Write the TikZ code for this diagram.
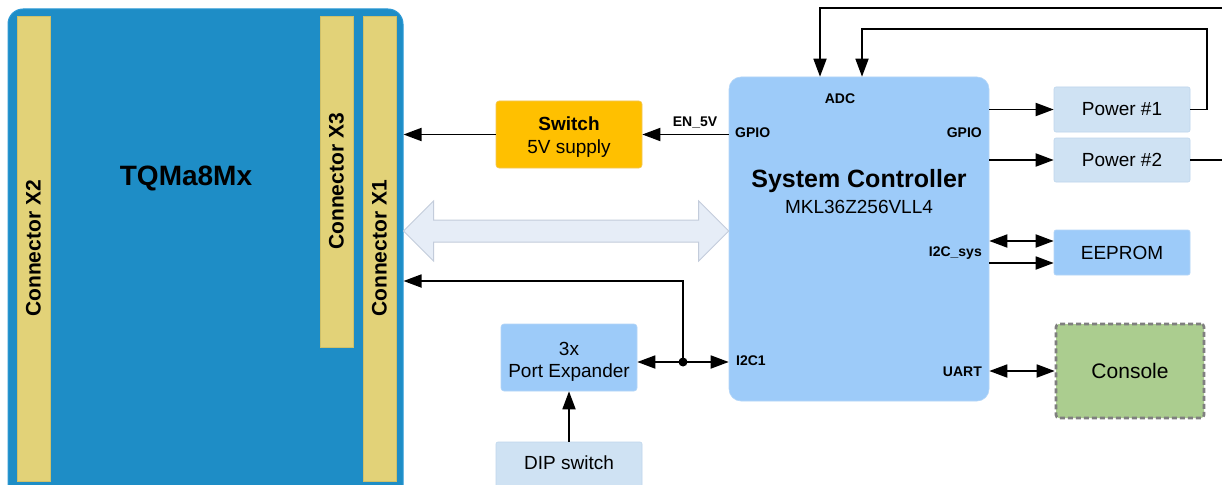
\documentclass[tikz,border=0pt]{standalone}
\usepackage{fontspec}
\setmainfont{Liberation Sans}
\usetikzlibrary{arrows.meta,calc}
\definecolor{tqblue}{HTML}{1E8DC6}
\definecolor{tqedge}{HTML}{2E9AD6}
\definecolor{connfill}{HTML}{E2D278}
\definecolor{connedge}{HTML}{CFC06A}
\definecolor{scblue}{HTML}{9DCBF9}
\definecolor{scedge}{HTML}{B4D6F8}
\definecolor{paleblue}{HTML}{CFE2F3}
\definecolor{paleedge}{HTML}{BFD6EC}
\definecolor{swfill}{HTML}{FFC000}
\definecolor{swedge}{HTML}{F2C65A}
\definecolor{confill}{HTML}{ABCD8F}
\definecolor{conedge}{HTML}{7F7F7F}
\definecolor{bigfill}{HTML}{E6EDF7}
\definecolor{bigedge}{HTML}{C3CCDB}
\begin{document}
\begin{tikzpicture}[x=1pt,y=-1pt,
  box/.style={rectangle, inner sep=0pt, align=center, font=\fontsize{19}{22}\selectfont},
  conn/.style={rectangle, inner sep=0pt, fill=connfill, draw=connedge, line width=0.6pt,
    font=\fontsize{21}{23}\selectfont\bfseries},
  pin/.style={inner sep=0pt, font=\fontsize{14}{15}\selectfont\bfseries},
  arr/.style={line width=1.8pt, -{Triangle[length=18pt,width=13pt]}},
  darr/.style={line width=1.8pt, {Triangle[length=18pt,width=13pt]}-{Triangle[length=18pt,width=13pt]}},
  ln/.style={line width=1.8pt}]
\useasboundingbox (0,0) rectangle (1222,484);
\clip (0,0) rectangle (1222,484);
\fill[white] (0,0) rectangle (1222,484);

% module
\node[rectangle, rounded corners=15pt, fill=tqblue, draw=tqedge, line width=1pt,
  minimum width=395pt, minimum height=500pt, inner sep=0pt] (tq) at (205.5,259) {};
\node[conn, rotate=90, minimum width=465pt, minimum height=33pt] (x2) at (33.5,248.5) {Connector X2};
\node[conn, rotate=90, minimum width=331pt, minimum height=33pt] (x3) at (336.5,181.5) {Connector X3};
\node[conn, rotate=90, minimum width=465pt, minimum height=33pt] (x1) at (379.5,248.5) {Connector X1};
\node[inner sep=0pt, font=\fontsize{28}{30}\selectfont\bfseries] (tqt) at (186,178) {TQMa8Mx};

% boxes
\node[box, rounded corners=3pt, fill=swfill, draw=swedge, line width=0.6pt,
  minimum width=146pt, minimum height=67pt] (sw) at (569,134.5) {};
\node[box, font=\fontsize{19}{23}\selectfont] (swt) at (569,137.5) {\textbf{Switch}\\5V supply};
\node[box, rounded corners=3pt, fill=scblue, draw=scedge, line width=0.6pt,
  minimum width=136pt, minimum height=67pt] (pe) at (569,357.5) {};
\node[box, font=\fontsize{19}{21.5}\selectfont] (pet) at (569,362) {3x\\Port Expander};
\node[box, rounded corners=2pt, fill=paleblue, draw=paleedge, line width=0.6pt,
  minimum width=146pt, minimum height=68pt] (dip) at (569,476) {};
\node[box] (dipt) at (569,463) {DIP switch};
\node[box, rounded corners=12pt, fill=scblue, draw=scedge, line width=0.6pt,
  minimum width=260pt, minimum height=324pt] (sc) at (859,239) {};
\node[inner sep=0pt, font=\fontsize{25}{27}\selectfont\bfseries] (sct) at (859,181) {System Controller};
\node[inner sep=0pt, font=\fontsize{19}{21}\selectfont] (scm) at (859,207) {MKL36Z256VLL4};

\node[box, rounded corners=2pt, fill=paleblue, draw=paleedge, line width=0.6pt,
  minimum width=136pt, minimum height=45pt] (p1) at (1122,109.5) {Power \#1};
\node[box, rounded corners=2pt, fill=paleblue, draw=paleedge, line width=0.6pt,
  minimum width=136pt, minimum height=44pt] (p2) at (1122,160) {Power \#2};
\node[box, rounded corners=2pt, fill=scblue, draw=scedge, line width=0.6pt,
  minimum width=136pt, minimum height=45pt] (ee) at (1122,252.5) {EEPROM};
\node[box, rounded corners=3pt, fill=confill, draw=conedge, line width=2.6pt,
  dash pattern=on 5pt off 3pt, minimum width=148pt, minimum height=94pt,
  font=\fontsize{21}{23}\selectfont] (con) at (1130,371) {Console};

% pin labels
\node[pin] (adc) at (840,99) {ADC};
\node[pin, anchor=west] (gpl) at (735,133) {GPIO};
\node[pin, anchor=east] (gpr) at (982,133) {GPIO};
\node[pin, anchor=east] (i2cs) at (982,253) {I2C\_sys};
\node[pin, anchor=west] (i2c1) at (736,361) {I2C1};
\node[pin, anchor=east] (uart) at (982,372) {UART};
\node[pin] (en) at (695,123) {EN\_5V};

% connectors
\draw[arr] (sc.west |- sw.east) -- (sw.east);
\draw[arr] (sw.west) -- (tq.east |- sw.west);

\coordinate (bl) at (tq.east |- 0,231);
\coordinate (br) at (sc.west |- 0,231);
\draw[fill=bigfill, draw=bigedge, line width=1pt, line join=miter]
  (bl) -- ($(bl)+(30,-30)$) -- ($(bl)+(30,-11)$) -- ($(br)+(-30,-11)$)
  -- ($(br)+(-30,-30)$) -- (br) -- ($(br)+(-30,30)$) -- ($(br)+(-30,11)$)
  -- ($(bl)+(30,11)$) -- ($(bl)+(30,30)$) -- cycle;

\coordinate (j) at (683,362);
\coordinate (jt) at (683,281);
\draw[arr] (j) -- (pe.east |- j);
\draw[arr] (j) -- (sc.west |- j);
\draw[arr] (j) -- (jt) -- (tq.east |- jt);
\fill (j) circle (4.5pt);
\draw[arr] (dip.north) -- (pe.south);

\draw[arr] (sc.east |- p1.west) -- (p1.west);
\draw[arr] (sc.east |- p2.west) -- (p2.west);
\coordinate (c1) at (1207,109.5);
\coordinate (c2) at (1207,29);
\coordinate (c3) at (862,29);
\draw[arr, line join=miter] (p1.east) -- (c1) -- (c2) -- (c3) -- (c3 |- sc.north);
\coordinate (r1) at (1240,8);
\coordinate (a1) at (820,8);
\draw[arr, line join=miter] (r1) -- (a1) -- (a1 |- sc.north);
\coordinate (r2) at (1240,160);
\draw[ln] (p2.east) -- (r2);

\draw[darr] (sc.east |- 0,241) -- (ee.west |- 0,241);
\draw[arr] (sc.east |- 0,263) -- (ee.west |- 0,263);
\draw[darr] (sc.east |- con.west) -- (con.west);
\end{tikzpicture}
\end{document}
